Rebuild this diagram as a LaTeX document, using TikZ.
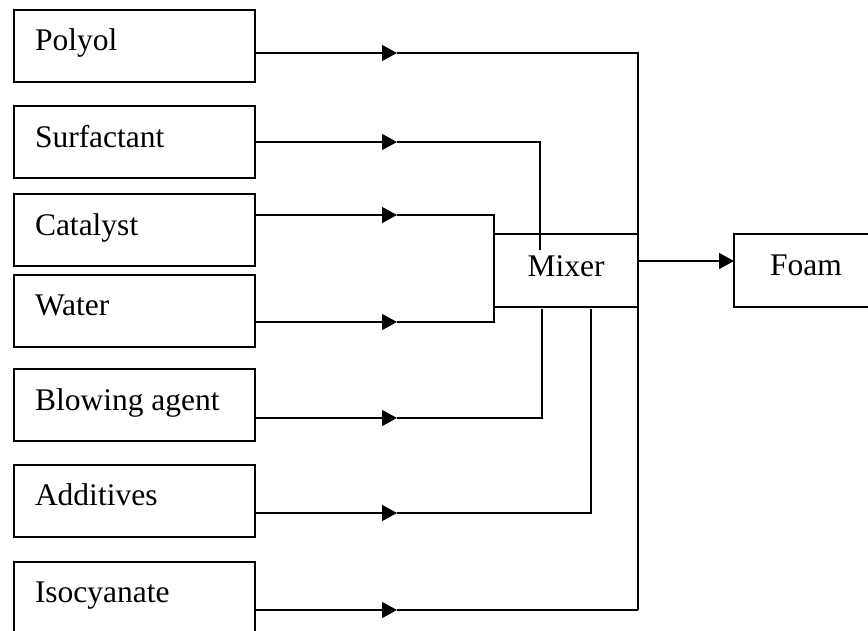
\documentclass[tikz,border=0pt]{standalone}
\usepackage{fontspec}
\setmainfont{Liberation Serif}
\usetikzlibrary{arrows.meta,calc}
\tikzset{
  inbox/.style={draw, line width=1.8pt, minimum width=241pt, minimum height=72pt, inner sep=0pt, outer sep=0pt, anchor=north west},
  midbox/.style={draw, line width=1.8pt, minimum width=144pt, minimum height=73pt, inner sep=0pt, outer sep=0pt, anchor=north west},
  lbl/.style={inner sep=0pt, outer sep=0pt, font=\fontsize{31.5}{36}\selectfont},
  conn/.style={line width=1.4pt},
  tri/.style={line width=1.4pt, -{Triangle[length=15pt,width=16pt]}}
}
\begin{document}
\begin{tikzpicture}[x=1pt,y=-1pt]
\useasboundingbox (0,0) rectangle (868,630);
% input boxes
\node[inbox] (polyol) at (14,10) {};
\node[inbox] (surf) at (14,106) {};
\node[inbox] (cat) at (14,194) {};
\node[inbox] (water) at (14,275) {};
\node[inbox] (blow) at (14,369) {};
\node[inbox] (add) at (14,465) {};
\node[inbox] (iso) at (14,562) {};
\node[lbl, anchor=base west] (polyolT) at (35,50) {Polyol};
\node[lbl, anchor=base west] (surfT) at (35,147) {Surfactant};
\node[lbl, anchor=base west] (catT) at (35,235) {Catalyst};
\node[lbl, anchor=base west] (waterT) at (35,315) {Water};
\node[lbl, anchor=base west] (blowT) at (35,410) {Blowing agent};
\node[lbl, anchor=base west] (addT) at (35,505) {Additives};
\node[lbl, anchor=base west] (isoT) at (35,602) {Isocyanate};
% mixer and foam
\node[midbox] (mixer) at (494,234) {};
\node[lbl, anchor=base] (mixerT) at (566,276) {Mixer};
\node[midbox, minimum width=160pt] (foam) at (734,234) {};
\node[lbl, anchor=base west] (foamT) at (770,275) {Foam};
% start points on the boxes
\coordinate (sP) at ($(polyol.north east)+(0,43)$);
\coordinate (sS) at ($(surf.north east)+(0,36)$);
\coordinate (sC) at ($(cat.north east)+(0,21)$);
\coordinate (sW) at ($(water.north east)+(0,47)$);
\coordinate (sB) at ($(blow.north east)+(0,49)$);
\coordinate (sA) at ($(add.north east)+(0,48)$);
\coordinate (sI) at ($(iso.north east)+(0,48)$);
% arrow tips
\coordinate (aP) at (397,53);
\coordinate (aS) at (397,142);
\coordinate (aC) at (397,215);
\coordinate (aW) at (397,322);
\coordinate (aB) at (397,418);
\coordinate (aA) at (397,513);
\coordinate (aI) at (397,610);
% ends
\coordinate (eS) at (540,250);
\coordinate (eB) at (542,309);
\coordinate (eA) at (591,309);
\draw[tri] (sP) -- (aP);
\draw[tri] (sS) -- (aS);
\draw[tri] (sC) -- (aC);
\draw[tri] (sW) -- (aW);
\draw[tri] (sB) -- (aB);
\draw[tri] (sA) -- (aA);
\draw[tri] (sI) -- (aI);
\draw[conn] (aP) -- (638,53) -- (638,610);
\draw[conn] (aI) -- (638,610);
\draw[conn] (aS) -| (eS);
\draw[conn] (aC) -| (494,322) -- (aW);
\draw[conn] (aB) -| (eB);
\draw[conn] (aA) -| (eA);
\draw[tri] ($(mixer.north east)+(0,27)$) -- ($(foam.north west)+(0,27)$);
\end{tikzpicture}
\end{document}
